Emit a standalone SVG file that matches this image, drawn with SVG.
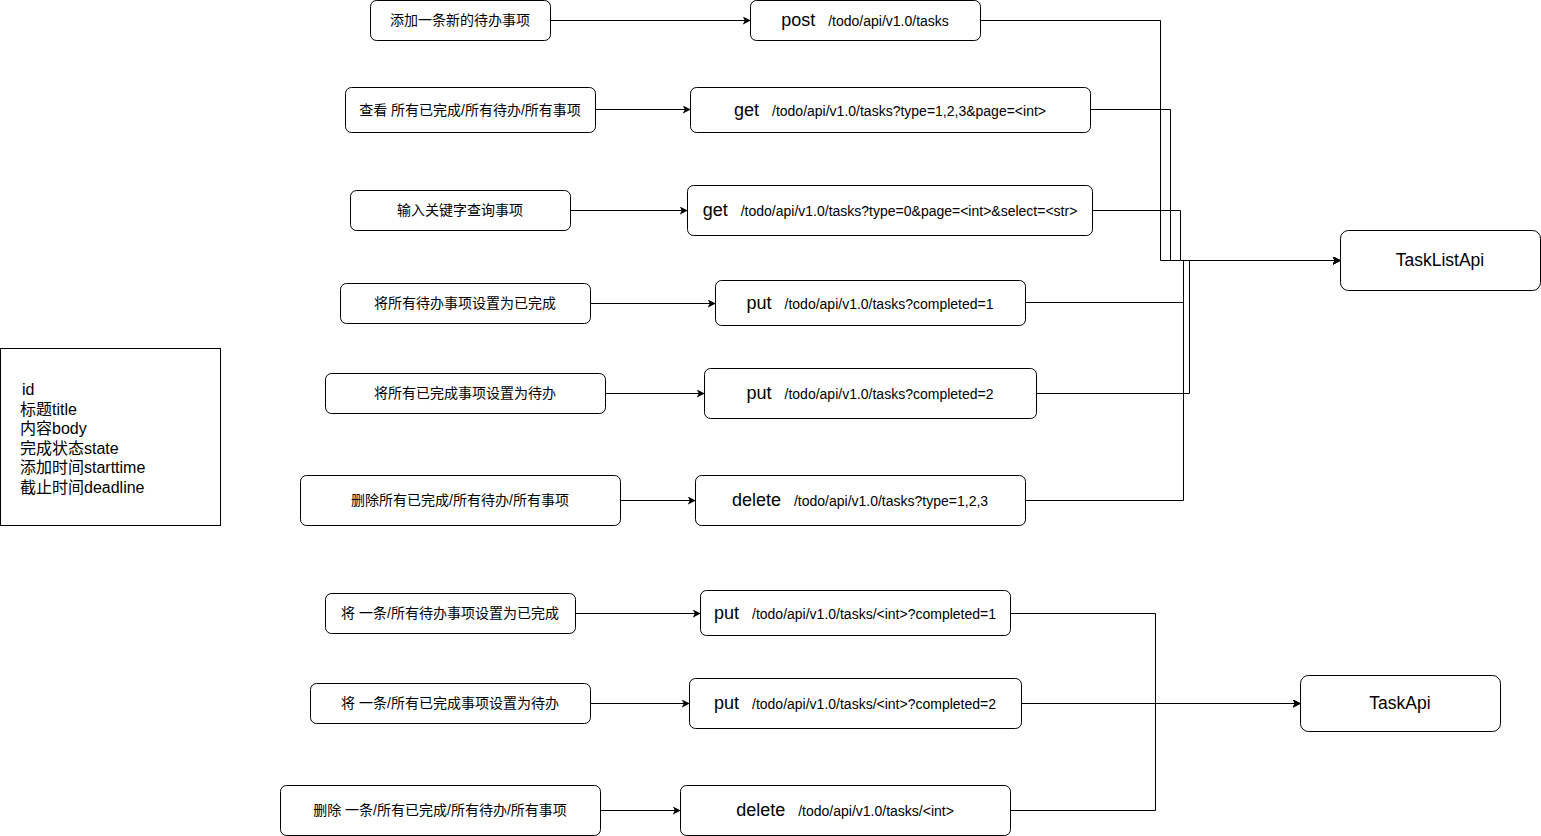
<svg xmlns="http://www.w3.org/2000/svg" width="1541" height="836" viewBox="0 0 1541 836">
<style>
.box{fill:#fff;stroke:#000;stroke-width:1}
.lbl{font-family:"Liberation Sans","Noto Sans CJK SC",sans-serif;font-size:14px;fill:#000;text-anchor:middle}
.api{font-family:"Liberation Sans","Noto Sans CJK SC",sans-serif;fill:#000;text-anchor:middle}
.m{font-size:18px}
.p{font-size:14px}
.big{font-family:"Liberation Sans",sans-serif;font-size:17.5px;fill:#000;text-anchor:middle}
.data{font-family:"Liberation Sans","Noto Sans CJK SC",sans-serif;font-size:16px;fill:#000}
.c{fill:none;stroke:#000;stroke-width:1;marker-end:url(#arr)}
</style>
<defs>
<marker id="arr" viewBox="0 0 10 10" refX="9" refY="5" markerWidth="8" markerHeight="8" markerUnits="userSpaceOnUse" orient="auto">
<path d="M0,0 L10,5 L0,10 L2.5,5 z" fill="#000"/>
</marker>
</defs>
<rect width="1541" height="836" fill="#fff"/>

<g id="connectors">
<path class="c" d="M550,20.5 H750"/>
<path class="c" d="M595,109.5 H690"/>
<path class="c" d="M570,210.5 H687"/>
<path class="c" d="M590,303.5 H715"/>
<path class="c" d="M605,393.5 H704"/>
<path class="c" d="M620,500.5 H695"/>
<path class="c" d="M575,613.5 H700"/>
<path class="c" d="M590,703.5 H689"/>
<path class="c" d="M600,810.5 H680"/>
<path class="c" d="M980,20.5 H1160.5 V260.5 H1340"/>
<path class="c" d="M1090,109.5 H1170.5 V260.5 H1340"/>
<path class="c" d="M1093,210.5 H1180.5 V260.5 H1340"/>
<path class="c" d="M1025,302.5 H1183.5 V260.5 H1340"/>
<path class="c" d="M1036,393.5 H1189.5 V260.5 H1340"/>
<path class="c" d="M1025,500.5 H1183.5 V260.5 H1340"/>
<path class="c" d="M1010,613.5 H1155.5 V703.5 H1300"/>
<path class="c" d="M1021,703.5 H1300"/>
<path class="c" d="M1010,810.5 H1155.5 V703.5 H1300"/>
</g>

<g id="n-add">
<rect class="box" x="370.5" y="0.5" width="180" height="40" rx="6"/>
<text class="lbl" x="460" y="25">添加一条新的待办事项</text>
</g>
<g id="n-view">
<rect class="box" x="345.5" y="87.5" width="250" height="45" rx="6"/>
<text class="lbl" x="470" y="115">查看 所有已完成/所有待办/所有事项</text>
</g>
<g id="n-search">
<rect class="box" x="350.5" y="190.5" width="220" height="40" rx="6"/>
<text class="lbl" x="460" y="215">输入关键字查询事项</text>
</g>
<g id="n-allcomplete">
<rect class="box" x="340.5" y="283.5" width="250" height="40" rx="6"/>
<text class="lbl" x="465" y="308">将所有待办事项设置为已完成</text>
</g>
<g id="n-allpending">
<rect class="box" x="325.5" y="373.5" width="280" height="40" rx="6"/>
<text class="lbl" x="465" y="398">将所有已完成事项设置为待办</text>
</g>
<g id="n-deleteall">
<rect class="box" x="300.5" y="475.5" width="320" height="50" rx="6"/>
<text class="lbl" x="460" y="505">删除所有已完成/所有待办/所有事项</text>
</g>
<g id="n-onecomplete">
<rect class="box" x="325.5" y="593.5" width="250" height="40" rx="6"/>
<text class="lbl" x="450" y="618">将 一条/所有待办事项设置为已完成</text>
</g>
<g id="n-onepending">
<rect class="box" x="310.5" y="683.5" width="280" height="40" rx="6"/>
<text class="lbl" x="450" y="708">将 一条/所有已完成事项设置为待办</text>
</g>
<g id="n-deleteone">
<rect class="box" x="280.5" y="785.5" width="320" height="50" rx="6"/>
<text class="lbl" x="440" y="815">删除 一条/所有已完成/所有待办/所有事项</text>
</g>

<g id="api-post">
<rect class="box" x="750.5" y="0.5" width="230" height="40" rx="6"/>
<text class="api" x="865" y="26"><tspan class="m">post</tspan><tspan class="p" dx="13">/todo/api/v1.0/tasks</tspan></text>
</g>
<g id="api-get1">
<rect class="box" x="690.5" y="87.5" width="400" height="45" rx="6"/>
<text class="api" x="890" y="116"><tspan class="m">get</tspan><tspan class="p" dx="13">/todo/api/v1.0/tasks?type=1,2,3&amp;page=&lt;int&gt;</tspan></text>
</g>
<g id="api-get2">
<rect class="box" x="687.5" y="185.5" width="405" height="50" rx="6"/>
<text class="api" x="890" y="216"><tspan class="m">get</tspan><tspan class="p" dx="13">/todo/api/v1.0/tasks?type=0&amp;page=&lt;int&gt;&amp;select=&lt;str&gt;</tspan></text>
</g>
<g id="api-put1">
<rect class="box" x="715.5" y="280.5" width="310" height="45" rx="6"/>
<text class="api" x="870" y="309"><tspan class="m">put</tspan><tspan class="p" dx="13">/todo/api/v1.0/tasks?completed=1</tspan></text>
</g>
<g id="api-put2">
<rect class="box" x="704.5" y="368.5" width="332" height="50" rx="6"/>
<text class="api" x="870" y="399"><tspan class="m">put</tspan><tspan class="p" dx="13">/todo/api/v1.0/tasks?completed=2</tspan></text>
</g>
<g id="api-delete">
<rect class="box" x="695.5" y="475.5" width="330" height="50" rx="6"/>
<text class="api" x="860" y="506"><tspan class="m">delete</tspan><tspan class="p" dx="13">/todo/api/v1.0/tasks?type=1,2,3</tspan></text>
</g>
<g id="api-put3">
<rect class="box" x="700.5" y="590.5" width="310" height="45" rx="6"/>
<text class="api" x="855" y="619"><tspan class="m">put</tspan><tspan class="p" dx="13">/todo/api/v1.0/tasks/&lt;int&gt;?completed=1</tspan></text>
</g>
<g id="api-put4">
<rect class="box" x="689.5" y="678.5" width="332" height="50" rx="6"/>
<text class="api" x="855" y="709"><tspan class="m">put</tspan><tspan class="p" dx="13">/todo/api/v1.0/tasks/&lt;int&gt;?completed=2</tspan></text>
</g>
<g id="api-delete2">
<rect class="box" x="680.5" y="785.5" width="330" height="50" rx="6"/>
<text class="api" x="845" y="816"><tspan class="m">delete</tspan><tspan class="p" dx="13">/todo/api/v1.0/tasks/&lt;int&gt;</tspan></text>
</g>

<g id="tasklistapi">
<rect class="box" x="1340.5" y="230.5" width="200" height="60" rx="8"/>
<text class="big" x="1440" y="266">TaskListApi</text>
</g>
<g id="taskapi">
<rect class="box" x="1300.5" y="675.5" width="200" height="56" rx="8"/>
<text class="big" x="1400" y="709">TaskApi</text>
</g>

<g id="model">
<rect class="box" x="0.5" y="348.5" width="220" height="177"/>
<text class="data" x="22" y="395">id</text>
<text class="data" x="20" y="414.6">标题title</text>
<text class="data" x="20" y="434.2">内容body</text>
<text class="data" x="20" y="453.8">完成状态state</text>
<text class="data" x="20" y="473.4">添加时间starttime</text>
<text class="data" x="20" y="493">截止时间deadline</text>
</g>
</svg>
